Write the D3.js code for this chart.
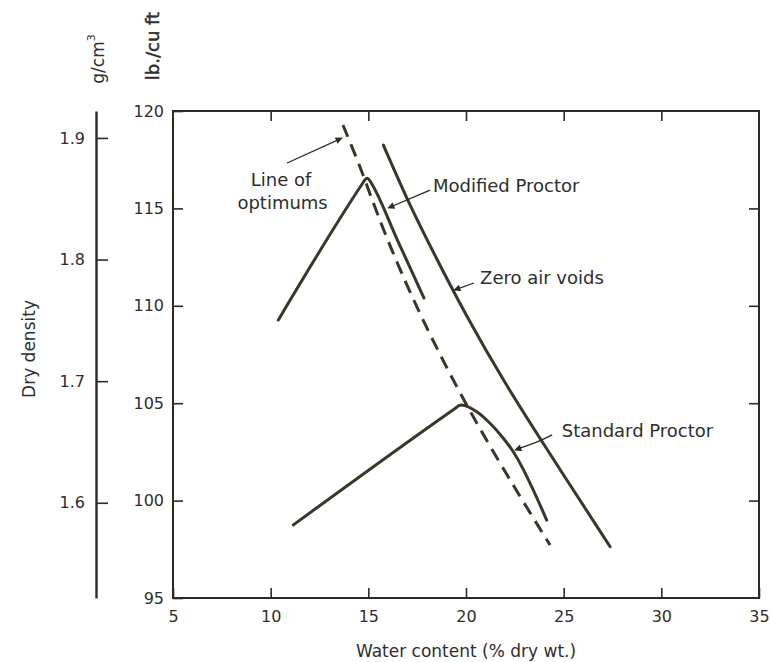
<!DOCTYPE html>
<html><head><meta charset="utf-8">
<script src="https://cdn.jsdelivr.net/npm/d3@7"></script>
<style>
body{margin:0;background:#fff;}
svg{display:block;font-family:"DejaVu Sans",sans-serif;}
</style></head><body>
<svg id="chart" width="771" height="662"></svg>
<script>
// ---- data (water content %, dry density lb/cu ft) ----
const xTicks = [5, 10, 15, 20, 25, 30, 35];
const yTicks = [95, 100, 105, 110, 115, 120];
const gTicks = [1.6, 1.7, 1.8, 1.9];
const modifiedProctor = [[10.39,109.27],[14.70,116.28],[14.82,116.46],[14.93,116.55],[15.06,116.45],[15.24,116.15],[16.5,113.35],[17.85,110.40]];
const standardProctor = [[11.16,98.75],[19.44,104.73],[19.64,104.87],[19.78,104.91],[20.55,104.56],[21.23,103.97],[21.91,103.20],[22.42,102.51],[24.13,99.0]];
const zeroAirVoids = [[15.77,118.25],[17.0,115.4],[18.5,112.4],[20.0,109.5],[22.0,106.0],[24.0,102.85],[27.38,97.63]];
const lineOfOptimums = [[13.70,119.28],[14.72,116.82],[15.60,114.25],[17.65,109.43],[20.57,103.78],[24.30,97.72]];
const labelTexts = ["Line of", "optimums", "Modified Proctor", "Zero air voids", "Standard Proctor"];
const labelPos = [[10.53,116.46,"middle"],[10.61,115.28,"middle"],[18.31,116.20,"start"],[20.72,111.43,"start"],[24.90,103.62,"start"]];
const arrowPaths = [
  [[10.84,117.33],[13.65,118.61]],
  [[18.16,115.94],[16.01,115.02]],
  [[20.41,111.17],[19.39,110.81]],
  [[24.41,103.37],[23.64,103.01],[22.51,102.60]]
];
const lbPerG = 62.43;

// ---- chart ----
const W = 771, H = 662;
const margin = {left:173, right:12, top:111, bottom:64};
const svg = d3.select("#chart");
const x = d3.scaleLinear().domain([5,35]).range([margin.left, W - margin.right]);
const y = d3.scaleLinear().domain([95,120]).range([H - margin.bottom, margin.top]);
const gy = d3.scaleLinear().domain([95/lbPerG, 120/lbPerG]).range(y.range());

const ink = "#2c2b26", lineInk = "#3a3629", textInk = "#2e2e2e";

function styleAxis(g, fs){
  g.selectAll(".domain").remove();
  g.selectAll(".tick line").attr("stroke", ink).attr("stroke-width", 1.6);
  g.selectAll(".tick text").attr("fill", textInk).attr("font-size", fs).attr("font-family", '"DejaVu Sans",sans-serif');
}

// frame
svg.append("rect")
  .attr("x", x(5)).attr("y", y(120))
  .attr("width", x(35)-x(5)).attr("height", y(95)-y(120))
  .attr("fill","none").attr("stroke", ink).attr("stroke-width", 2);

svg.append("g").attr("transform",`translate(0,${y(95)})`)
  .call(d3.axisBottom(x).tickValues(xTicks).tickSizeInner(-10).tickSizeOuter(0).tickPadding(13))
  .call(g=>styleAxis(g,16));
svg.append("g").attr("transform",`translate(0,${y(120)})`)
  .call(d3.axisTop(x).tickValues(xTicks.slice(1,-1)).tickSizeInner(-10).tickSizeOuter(0).tickFormat(""))
  .call(g=>styleAxis(g,16));
svg.append("g").attr("transform",`translate(${x(5)},0)`)
  .call(d3.axisLeft(y).tickValues(yTicks).tickSizeInner(-10).tickSizeOuter(0).tickPadding(9))
  .call(g=>styleAxis(g,16));
svg.append("g").attr("transform",`translate(${x(35)},0)`)
  .call(d3.axisRight(y).tickValues(yTicks.slice(1,-1)).tickSizeInner(-10).tickSizeOuter(0).tickFormat(""))
  .call(g=>styleAxis(g,16));

// secondary g/cm3 axis
const gAxis = svg.append("g").attr("transform","translate(96,0)")
  .call(d3.axisLeft(gy).tickValues(gTicks).tickSizeInner(-12).tickSizeOuter(0).tickPadding(11).tickFormat(d3.format(".1f")));
gAxis.select(".domain").attr("stroke", ink).attr("stroke-width", 2.4);
gAxis.selectAll(".tick line").attr("stroke", ink).attr("stroke-width", 1.6);
gAxis.selectAll(".tick text").attr("fill", textInk).attr("font-size", 16).attr("font-family", '"DejaVu Sans",sans-serif');

// curves
const lineMono = d3.line().x(d=>x(d[0])).y(d=>y(d[1])).curve(d3.curveMonotoneX);
const lineBasis = d3.line().x(d=>x(d[0])).y(d=>y(d[1])).curve(d3.curveBasis);
const plot = svg.append("g").attr("fill","none").attr("stroke", lineInk).attr("stroke-width", 3).attr("stroke-linecap","round").attr("stroke-linejoin","round");
plot.append("path").attr("d", lineMono(modifiedProctor));
plot.append("path").attr("d", lineMono(standardProctor));
plot.append("path").attr("d", lineBasis(zeroAirVoids));
plot.append("path").attr("d", lineBasis(lineOfOptimums)).attr("stroke-dasharray","13,8").attr("stroke-linecap","butt");

// arrows
svg.append("defs").append("marker")
  .attr("id","ah").attr("viewBox","0 0 10 10").attr("refX",9).attr("refY",5)
  .attr("markerUnits","userSpaceOnUse").attr("markerWidth",9).attr("markerHeight",7).attr("orient","auto")
  .append("path").attr("d","M0,0L10,5L0,10z").attr("fill", ink);
const arrowLine = d3.line().x(d=>x(d[0])).y(d=>y(d[1])).curve(d3.curveNatural);
svg.append("g").selectAll("path").data(arrowPaths).join("path")
  .attr("d", d=>arrowLine(d)).attr("fill","none").attr("stroke", ink).attr("stroke-width",1.3)
  .attr("marker-end","url(#ah)");

// labels
svg.append("g").selectAll("text").data(labelTexts).join("text")
  .attr("x",(d,i)=>x(labelPos[i][0])).attr("y",(d,i)=>y(labelPos[i][1]))
  .attr("text-anchor",(d,i)=>labelPos[i][2]).attr("dominant-baseline","central")
  .attr("font-size",18).attr("fill",textInk).text(d=>d);

// axis titles
svg.append("text").attr("x", x(20)).attr("y", 651).attr("text-anchor","middle")
  .attr("dominant-baseline","central").attr("font-size",17).attr("fill",textInk)
  .text("Water content (% dry wt.)");
svg.append("text").attr("transform","translate(29,349) rotate(-90)").attr("text-anchor","middle")
  .attr("dominant-baseline","central").attr("font-size",17).attr("fill",textInk).text("Dry density");
const gl = svg.append("text").attr("transform","translate(98,59) rotate(-90)").attr("text-anchor","middle")
  .attr("dominant-baseline","central").attr("font-size",17).attr("fill",textInk);
gl.append("tspan").text("g/cm");
gl.append("tspan").attr("dy",-7).attr("font-size",11).text("3");
svg.append("text").attr("transform","translate(152,46) rotate(-90)").attr("text-anchor","middle")
  .attr("dominant-baseline","central").attr("font-size",18).attr("fill",textInk)
  .attr("stroke",textInk).attr("stroke-width",0.5).text("lb./cu ft");
</script>
</body></html>
